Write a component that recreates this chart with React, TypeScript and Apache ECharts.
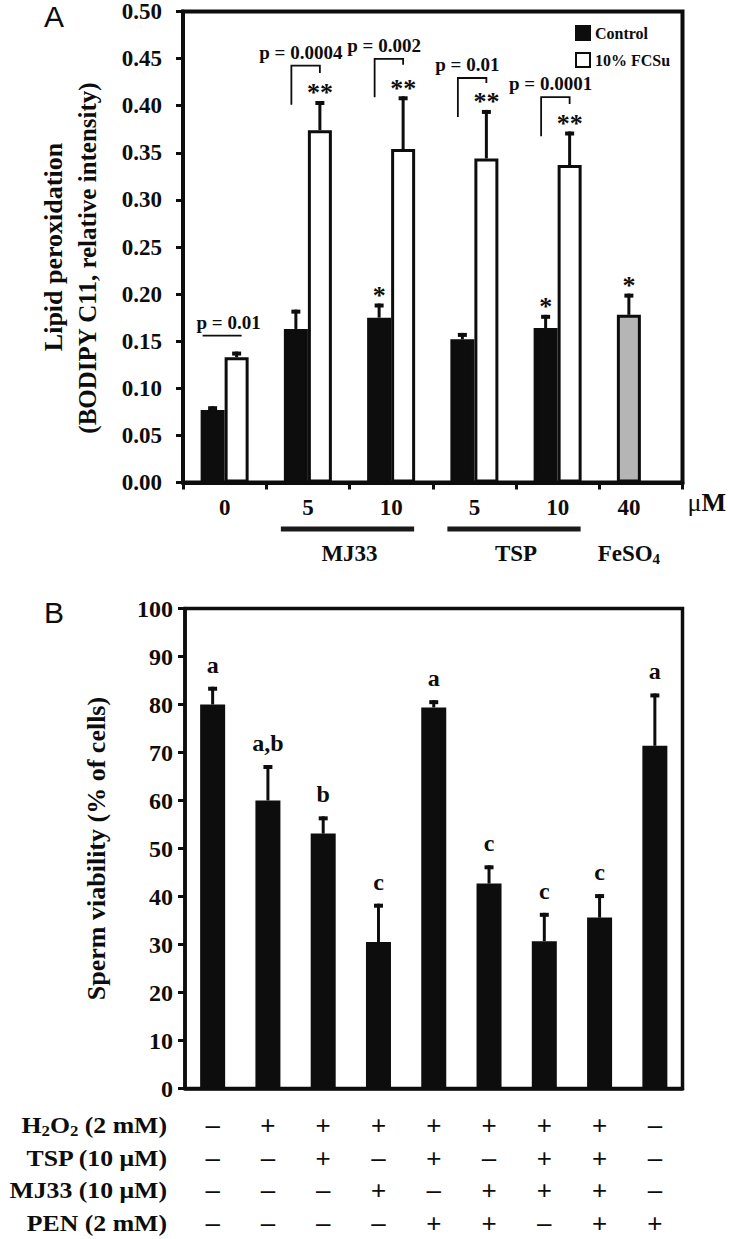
import React, { useEffect, useRef } from "react";
import * as echarts from "echarts";

// ---------- Panel A data ----------
const doseLabels = ["0", "5", "10", "5", "10", "40"];
const controlValues = [0.077, 0.163, 0.175, 0.152, 0.164, 0.178];
const controlErrTop = [0.081, 0.1835, 0.19, 0.1588, 0.178, 0.2005];
const fcsuValues: (number | null)[] = [0.133, 0.374, 0.354, 0.344, 0.337, null];
const fcsuErrTop: (number | null)[] = [0.139, 0.405, 0.41, 0.3955, 0.3726, null];
const controlStars = ["", "", "*", "", "*", "*"];
const fcsuStars = ["", "**", "**", "**", "**", ""];
const pLabels = ["p = 0.01", "p = 0.0004", "p = 0.002", "p = 0.01", "p = 0.0001"];
const pBracketTop = [0.156, 0.4425, 0.4497, 0.4294, 0.409];
const pBracketLeftEnd = [0.156, 0.401, 0.409, 0.388, 0.3677];
const pBracketRightEnd = [0.156, 0.4347, 0.4436, 0.424, 0.4019];
const groupNames = ["MJ33", "TSP", "FeSO4"];
const groupFrom = [1, 3, 5];
const groupTo = [2, 4, 5];
const groupUnderline = [true, true, false];
const yTitleA = ["Lipid peroxidation", "(BODIPY C11, relative intensity)"];

// ---------- Panel B data ----------
const treatments = ["1", "2", "3", "4", "5", "6", "7", "8", "9"];
const viability = [80.0, 60.0, 53.1, 30.5, 79.4, 42.7, 30.7, 35.6, 71.4];
const viabilityErrTop = [83.7, 67.4, 56.7, 38.5, 80.9, 46.5, 36.6, 40.5, 82.3];
const sigLetters = ["a", "a,b", "b", "c", "a", "c", "c", "c", "a"];
const rowNames = ["H2O2 (2 mM)", "TSP (10 μM)", "MJ33 (10 μM)", "PEN (2 mM)"];
const h2o2Row = ["–", "+", "+", "+", "+", "+", "+", "+", "–"];
const tspRow = ["–", "–", "+", "–", "+", "–", "+", "+", "–"];
const mj33Row = ["–", "–", "–", "+", "–", "+", "+", "+", "–"];
const penRow = ["–", "–", "–", "–", "+", "+", "–", "+", "+"];
const treatmentRows = [h2o2Row, tspRow, mj33Row, penRow];

// ---------- styling ----------
const SERIF = "'Times New Roman', 'Liberation Serif', serif";
const SANS = "Arial, 'Liberation Sans', sans-serif";
const INK = "#0d0d0d";
const GRID_A = { left: 183, top: 10.5, width: 499.5, height: 472 };
const GRID_B = { left: 185, top: 608.5, width: 497.5, height: 480 };
const BAR_A = 24;
const BAR_B = 25;
const ROW_MARGIN = 20.5;
const ROW_LH = 32.5;

const bold = (size: number) => ({ fontFamily: SERIF, fontWeight: "bold" as const, fontSize: size, color: INK });

const makeErrorRenderer =
  (offset: number, capW: number, capH: number, lineW: number, marks: string[], markSize: number, markGap: number) =>
  (_params: any, api: any) => {
    const idx = api.value(0);
    const base = api.coord([idx, api.value(1)]);
    const top = api.coord([idx, api.value(2)]);
    const x = base[0] + offset;
    const children: any[] = [
      { type: "rect", shape: { x: x - lineW / 2, y: top[1], width: lineW, height: Math.max(0, base[1] - top[1]) }, style: { fill: INK } },
      { type: "rect", shape: { x: x - capW / 2, y: top[1], width: capW, height: capH }, style: { fill: INK } },
    ];
    const m = marks[idx];
    if (m) {
      children.push({
        type: "text",
        x,
        y: top[1] - markGap,
        style: { text: m, fontFamily: SERIF, fontWeight: "bold", fontSize: markSize, fill: INK, align: "center", verticalAlign: "middle" },
      });
    }
    return { type: "group", children };
  };

export default function App() {
  const ref = useRef<HTMLDivElement>(null);
  useEffect(() => {
    document.body.style.margin = "0";
    if (!ref.current) return;
    const chart = echarts.init(ref.current, undefined, { renderer: "svg" });

    const axisYB = GRID_B.top + GRID_B.height;
    const rowRich = (name: string) =>
      name.startsWith("H2O2")
        ? "{n|H}{s|2}{n|O}{s|2}{n|" + name.slice(4) + "}"
        : "{n|" + name + "}";

    const option: any = {
      animation: false,
      textStyle: { fontFamily: SERIF },
      grid: [
        { ...GRID_A, show: true, borderColor: INK, borderWidth: 4, backgroundColor: "transparent" },
        { ...GRID_B, show: true, borderColor: INK, borderWidth: 3.5, backgroundColor: "transparent" },
      ],
      legend: {
        data: ["Control", "10% FCSu"],
        orient: "vertical",
        left: 570,
        top: 20,
        itemWidth: 14,
        itemHeight: 14,
        itemGap: 11,
        icon: "rect",
        selectedMode: false,
        textStyle: { ...bold(16), lineHeight: 14 },
      },
      xAxis: [
        {
          gridIndex: 0,
          type: "category",
          data: doseLabels,
          axisLine: { lineStyle: { color: INK, width: 4 } },
          axisTick: { show: true, interval: 0, length: 7, lineStyle: { color: INK, width: 3 } },
          splitLine: { show: false },
          axisLabel: {
            interval: 0,
            margin: 13.5,
            formatter: (v: string, i: number) => (i === 5 ? `{s|${v}}` : `{n|${v}}`),
            rich: { n: bold(23), s: { ...bold(23), padding: [0, 24, 0, 0] } },
          },
          name: "{u|μ}{m|M}",
          nameLocation: "end",
          nameGap: 5,
          nameTextStyle: {
            padding: [40, 0, 0, 0],
            rich: { u: { fontFamily: SERIF, fontSize: 26, color: INK }, m: bold(26) },
          },
        },
        {
          gridIndex: 1,
          type: "category",
          data: treatments,
          axisLine: { lineStyle: { color: INK, width: 3.5 } },
          axisTick: { show: false },
          splitLine: { show: false },
          axisLabel: {
            interval: 0,
            margin: ROW_MARGIN,
            lineHeight: ROW_LH,
            fontFamily: SANS,
            fontSize: 26,
            color: INK,
            formatter: (_v: string, i: number) => treatmentRows.map((r) => r[i]).join("\n"),
          },
        },
      ],
      yAxis: [
        {
          gridIndex: 0,
          type: "value",
          min: 0,
          max: 0.5,
          interval: 0.05,
          axisLine: { show: true, lineStyle: { color: INK, width: 4 } },
          axisTick: { show: true, length: 7, lineStyle: { color: INK, width: 3 } },
          splitLine: { show: false },
          axisLabel: { margin: 21, formatter: (v: number) => v.toFixed(2), ...bold(23) },
        },
        {
          gridIndex: 1,
          type: "value",
          min: 0,
          max: 100,
          interval: 10,
          axisLine: { show: true, lineStyle: { color: INK, width: 3.5 } },
          axisTick: { show: true, length: 7, lineStyle: { color: INK, width: 3 } },
          splitLine: { show: false },
          axisLabel: { margin: 12, ...bold(24) },
          name: "Sperm viability (% of cells)",
          nameLocation: "middle",
          nameRotate: 90,
          nameGap: 76,
          nameTextStyle: bold(26),
        },
      ],
      series: [
        {
          name: "Control",
          type: "bar",
          xAxisIndex: 0,
          yAxisIndex: 0,
          barWidth: BAR_A,
          barGap: "0%",
          itemStyle: { color: INK, borderColor: INK, borderWidth: 3 },
          data: controlValues.map((v, i) =>
            i === 5 ? { value: v, itemStyle: { color: "#b5b5b5", borderColor: INK, borderWidth: 3 } } : v
          ),
          z: 2,
        },
        {
          name: "10% FCSu",
          type: "bar",
          xAxisIndex: 0,
          yAxisIndex: 0,
          barWidth: BAR_A,
          barGap: "0%",
          itemStyle: { color: "#ffffff", borderColor: INK, borderWidth: 3 },
          data: fcsuValues.map((v) => (v == null ? "-" : v)),
          z: 2,
        },
        {
          type: "custom",
          xAxisIndex: 0,
          yAxisIndex: 0,
          clip: false,
          z: 3,
          data: controlValues.map((v, i) => [i, v, controlErrTop[i]]),
          renderItem: makeErrorRenderer(-BAR_A / 2, 9, 4, 3, controlStars, 26, 8),
        },
        {
          type: "custom",
          xAxisIndex: 0,
          yAxisIndex: 0,
          clip: false,
          z: 3,
          data: fcsuValues
            .map((v, i) => (v == null ? null : [i, v, fcsuErrTop[i] as number]))
            .filter((d) => d !== null),
          renderItem: makeErrorRenderer(BAR_A / 2, 9, 4, 3, fcsuStars, 26, 8),
        },
        {
          type: "custom",
          xAxisIndex: 0,
          yAxisIndex: 0,
          clip: false,
          z: 3,
          data: pLabels.map((_, i) => [i, pBracketTop[i], pBracketLeftEnd[i], pBracketRightEnd[i]]),
          renderItem: (params: any, api: any) => {
            const c = api.value(0);
            const top = api.coord([c, api.value(1)]);
            const lEnd = api.coord([c, api.value(2)]);
            const rEnd = api.coord([c, api.value(3)]);
            const cx = top[0];
            const flat = api.value(2) === api.value(1);
            const xl = flat ? cx - 22 : cx - 16.5;
            const xr = flat ? cx + 17 : cx + 12;
            return {
              type: "group",
              children: [
                {
                  type: "polyline",
                  shape: { points: [[xl, lEnd[1]], [xl, top[1]], [xr, top[1]], [xr, rEnd[1]]] },
                  style: { stroke: INK, lineWidth: 1.8, fill: null },
                },
                {
                  type: "text",
                  x: flat ? cx + 4 : cx - 7,
                  y: top[1] - 13.5,
                  style: {
                    text: pLabels[params.dataIndex],
                    fontFamily: SERIF,
                    fontWeight: "bold",
                    fontSize: 19,
                    fill: INK,
                    align: "center",
                    verticalAlign: "middle",
                  },
                },
              ],
            };
          },
        },
        {
          type: "custom",
          xAxisIndex: 0,
          yAxisIndex: 0,
          clip: false,
          z: 3,
          data: groupNames.map((_, i) => [groupFrom[i], groupTo[i]]),
          renderItem: (params: any, api: any) => {
            const i = params.dataIndex;
            const a = api.coord([api.value(0), 0]);
            const b = api.coord([api.value(1), 0]);
            const y0 = a[1];
            const children: any[] = [];
            const single = api.value(0) === api.value(1);
            if (groupUnderline[i]) {
              children.push({
                type: "rect",
                shape: { x: a[0] - 27, y: y0 + 44, width: b[0] + 23 - (a[0] - 27), height: 5 },
                style: { fill: "#1a1a1a" },
              });
            }
            const name = groupNames[i];
            const m = name.match(/^(.*SO)(\d)$/);
            const text = m ? `{n|${m[1]}}{s|${m[2]}}` : `{n|${name}}`;
            children.push({
              type: "text",
              x: single ? a[0] - BAR_A / 2 : (a[0] + b[0]) / 2,
              y: y0 + 71,
              style: {
                text,
                align: "center",
                verticalAlign: "middle",
                rich: {
                  n: { fontFamily: SERIF, fontWeight: "bold", fontSize: 23, fill: INK, lineHeight: 24 },
                  s: { fontFamily: SERIF, fontWeight: "bold", fontSize: 15, fill: INK, lineHeight: 15, padding: [10, 0, 0, 0] },
                },
              },
            });
            return { type: "group", children };
          },
        },
        {
          name: "Viability",
          type: "bar",
          xAxisIndex: 1,
          yAxisIndex: 1,
          barWidth: BAR_B,
          itemStyle: { color: INK },
          data: viability,
          z: 2,
        },
        {
          type: "custom",
          xAxisIndex: 1,
          yAxisIndex: 1,
          clip: false,
          z: 3,
          data: viability.map((v, i) => [i, v, viabilityErrTop[i]]),
          renderItem: makeErrorRenderer(0, 9, 4, 3, sigLetters, 24, 22),
        },
      ],
      graphic: [
        {
          type: "text",
          x: 54,
          y: 16,
          style: { text: "A", fontFamily: SANS, fontSize: 30, fill: INK, align: "center", verticalAlign: "middle" },
        },
        {
          type: "text",
          x: 54,
          y: 612,
          style: { text: "B", fontFamily: SANS, fontSize: 30, fill: INK, align: "center", verticalAlign: "middle" },
        },
        {
          type: "text",
          x: 53,
          y: 247,
          rotation: Math.PI / 2,
          style: { text: yTitleA[0], fontFamily: SERIF, fontWeight: "bold", fontSize: 26, fill: INK, align: "center", verticalAlign: "middle" },
        },
        {
          type: "text",
          x: 87,
          y: 258,
          rotation: Math.PI / 2,
          style: { text: yTitleA[1], fontFamily: SERIF, fontWeight: "bold", fontSize: 25, fill: INK, align: "center", verticalAlign: "middle" },
        },
        ...rowNames.map((name, r) => ({
          type: "text",
          x: 167,
          y: axisYB + ROW_MARGIN + ROW_LH * (r + 0.5),
          scaleX: 1.12,
          style: {
            text: rowRich(name),
            align: "right",
            verticalAlign: "middle",
            rich: {
              n: { fontFamily: SERIF, fontWeight: "bold", fontSize: 23, fill: INK, lineHeight: 26 },
              s: { fontFamily: SERIF, fontWeight: "bold", fontSize: 15, fill: INK, lineHeight: 15, padding: [11, 0, 0, 0] },
            },
          },
        })),
      ],
    };

    chart.setOption(option);
    return () => chart.dispose();
  }, []);

  return <div ref={ref} style={{ width: 730, height: 1239 }} />;
}
